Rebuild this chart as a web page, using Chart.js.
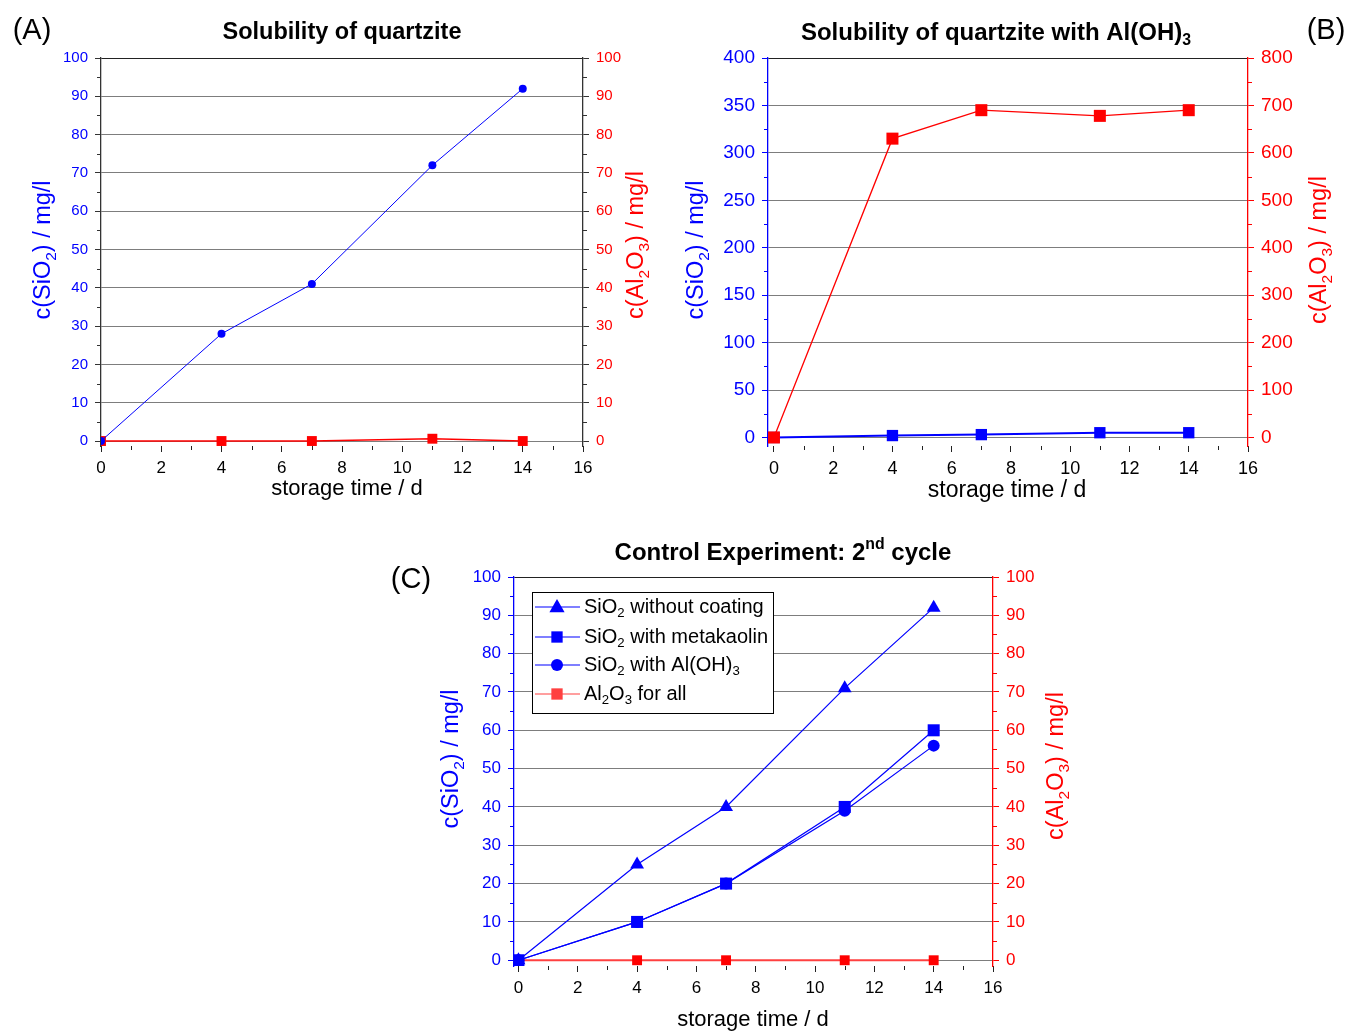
<!DOCTYPE html>
<html><head><meta charset="utf-8">
<script src="https://cdn.jsdelivr.net/npm/chart.js@4.4.1/dist/chart.umd.min.js"></script>
<style>
html,body{margin:0;padding:0;background:#fff;width:1349px;height:1031px;overflow:hidden;}
.panel{position:absolute;}
</style></head><body>
<div class="panel" style="left:0px;top:0px;width:680px;height:510px"><canvas id="ca"></canvas></div>
<div class="panel" style="left:680px;top:0px;width:669px;height:510px"><canvas id="cb"></canvas></div>
<div class="panel" style="left:370px;top:520px;width:720px;height:511px"><canvas id="cc"></canvas></div>
<script>
// ---------- data ----------
const daysA = [0, 4, 7, 11, 14];
const sio2A = [0, 28, 41, 72, 92];
const al2o3A = [0, 0, 0, 0.6, 0];

const daysB = [0, 4, 7, 11, 14];
const sio2B = [0, 2, 3, 5, 5];
const al2o3B = [0, 630, 690, 678, 690];

const daysC = [0, 4, 7, 11, 14];
const sio2NoCoat = [0, 25, 40, 71, 92];
const sio2Meta = [0, 10, 20, 40, 60];
const sio2AlOH = [0, 10, 20, 39, 56];
const al2o3C = [0, 0, 0, 0, 0];

const legendLabelsC = [
  [['SiO',0],['2',1],[' without coating',0]],
  [['SiO',0],['2',1],[' with metakaolin',0]],
  [['SiO',0],['2',1],[' with Al(OH)',0],['3',1]],
  [['Al',0],['2',1],['O',0],['3',1],[' for all',0]]
];

// ---------- helpers ----------
const FAM = '"Liberation Sans", Arial, sans-serif';
Chart.defaults.font.family = FAM;
const BLUE = '#0000ff', RED = '#ff0000', DARK = '#222222', GRID = '#7d7d7d';
const pts = (xs, ys) => xs.map((x, i) => ({x: x, y: ys[i]}));
function fontStr(size, bold){ return (bold ? 'bold ' : '') + size + 'px ' + FAM; }
function segsWidth(ctx, segs, size, bold){
  let w = 0;
  for (const [t, m] of segs){ ctx.font = fontStr(m ? size*0.66 : size, bold); w += ctx.measureText(t).width; }
  return w;
}
function drawRich(ctx, segs, cx, cy, size, color, bold, rot){
  ctx.save(); ctx.translate(cx, cy); if (rot) ctx.rotate(rot);
  const w = segsWidth(ctx, segs, size, bold);
  let x = -w/2;
  ctx.fillStyle = color; ctx.textBaseline = 'middle'; ctx.textAlign = 'left';
  for (const [t, m] of segs){
    const s = m ? size*0.66 : size;
    ctx.font = fontStr(s, bold);
    const dy = m === 1 ? size*0.32 : (m === 2 ? -size*0.36 : 0);
    ctx.fillText(t, x, dy);
    x += ctx.measureText(t).width;
  }
  ctx.restore();
}
function marker(ctx, style, x, y, r, color){
  ctx.save(); ctx.fillStyle = color; ctx.beginPath();
  if (style === 'circle'){ ctx.arc(x, y, r, 0, Math.PI*2); }
  else if (style === 'rect'){ const s = r*Math.SQRT1_2; ctx.rect(x-s, y-s, 2*s, 2*s); }
  else if (style === 'triangle'){ ctx.moveTo(x, y - r); ctx.lineTo(x + r*0.95, y + r*0.65); ctx.lineTo(x - r*0.95, y + r*0.65); ctx.closePath(); }
  ctx.fill(); ctx.restore();
}

const annot = {
  id: 'annot',
  afterDraw(chart, args, opts){
    if (!opts || !opts.off) return;
    const ctx = chart.ctx; const ox = opts.off[0], oy = opts.off[1];
    (opts.items || []).forEach(it => drawRich(ctx, it.s, it.x - ox, it.y - oy, it.size, it.color || '#000', it.bold, it.rot));
    const lg = opts.legend;
    if (lg){
      ctx.save();
      ctx.fillStyle = '#fff'; ctx.fillRect(lg.x - ox, lg.y - oy, lg.w, lg.h);
      ctx.strokeStyle = '#000'; ctx.lineWidth = 1;
      ctx.strokeRect(lg.x - ox + 0.5, lg.y - oy + 0.5, lg.w, lg.h);
      lg.rows.forEach((r, i) => {
        const y = lg.rowY[i] - oy;
        ctx.strokeStyle = r.color; ctx.lineWidth = r.lw;
        ctx.beginPath(); ctx.moveTo(lg.x - ox + 3, y); ctx.lineTo(lg.x - ox + 48, y); ctx.stroke();
        marker(ctx, r.style, lg.x - ox + 25, y, r.r, r.color);
        const w = segsWidth(ctx, r.label, lg.size, false);
        drawRich(ctx, r.label, lg.x - ox + 52 + w/2, y, lg.size, '#000', false, 0);
      });
      ctx.restore();
    }
  }
};

const minorTicks = {
  id: 'minorTicks',
  afterDraw(chart, args, opts){
    if (!opts || !opts.scales) return;
    const ctx = chart.ctx;
    Object.keys(opts.scales).forEach(id => {
      const s = chart.scales[id]; const o = opts.scales[id]; if (!s) return;
      const vals = s.ticks.map(t => t.value);
      ctx.save(); ctx.strokeStyle = o.color; ctx.lineWidth = 1;
      ctx.beginPath();
      for (let i = 0; i < vals.length - 1; i++){
        const p = Math.round(s.getPixelForValue((vals[i] + vals[i+1]) / 2)) + 0.5;
        if (s.axis === 'x'){ ctx.moveTo(p, s.top); ctx.lineTo(p, s.top + 4); }
        else if (s.position === 'left'){ ctx.moveTo(s.right, p); ctx.lineTo(s.right - 4, p); }
        else { ctx.moveTo(s.left, p); ctx.lineTo(s.left + 4, p); }
      }
      ctx.stroke(); ctx.restore();
    });
  }
};
Chart.register(annot, minorTicks);

function xScale(min, H, size){
  return {type: 'linear', min: min, max: 16,
    ticks: {stepSize: 2, includeBounds: false, color: '#000', font: {size: size}, padding: 6, maxRotation: 0, autoSkip: false},
    grid: {drawOnChartArea: false, drawTicks: true, tickLength: 6, tickColor: DARK, lineWidth: 1},
    border: {display: false},
    afterFit: s => { s.height = H; }};
}
function yScale(pos, min, max, step, labelColor, axisColor, size, W, grid){
  return {type: 'linear', position: pos, min: min, max: max,
    ticks: {stepSize: step, includeBounds: false, color: labelColor, font: {size: size}, padding: 7, autoSkip: false},
    grid: {drawOnChartArea: grid, drawTicks: true, tickLength: 6, tickColor: axisColor, lineWidth: 1,
      color: c => (c.tick && c.tick.value === max) ? DARK : GRID},
    border: {display: true, color: axisColor, width: 1.3},
    afterFit: s => { s.width = W; }};
}
function baseOpts(scales, padTop, plug){
  return {responsive: true, maintainAspectRatio: false, animation: false,
    layout: {padding: {top: padTop, left: 0, right: 0, bottom: 0}},
    elements: {line: {tension: 0}},
    scales: scales,
    plugins: Object.assign({legend: {display: false}, tooltip: {enabled: false}}, plug)};
}
const SIO2 = [['c(SiO',0],['2',1],[') / mg/l',0]];
const AL2O3 = [['c(Al',0],['2',1],['O',0],['3',1],[') / mg/l',0]];
const XT = [['storage time / d',0]];
const R90 = -Math.PI/2;

// ---------- Panel A ----------
new Chart(document.getElementById('ca'), {
  type: 'line',
  data: {datasets: [
    {data: pts(daysA, sio2A), yAxisID: 'y', borderColor: BLUE, backgroundColor: BLUE, borderWidth: 1,
     pointStyle: 'circle', pointRadius: 4, pointBorderWidth: 0},
    {data: pts(daysA, al2o3A), yAxisID: 'y2', borderColor: RED, backgroundColor: RED, borderWidth: 1.5,
     pointStyle: 'rect', pointRadius: 7, pointBorderWidth: 0}
  ]},
  options: baseOpts({
    x: xScale(0, 510-446, 17),
    y: yScale('left', -1.3, 100, 10, BLUE, '#333', 15, 101, true),
    y2: yScale('right', -1.3, 100, 10, RED, '#333', 15, 680-583, false)
  }, 58, {
    annot: {off: [0, 0], items: [
      {s: [['(A)',0]], x: 32, y: 31, size: 29},
      {s: [['Solubility of quartzite',0]], x: 342, y: 33, size: 23.5, bold: true},
      {s: XT, x: 347, y: 489, size: 22},
      {s: SIO2, x: 44, y: 250, size: 23.5, color: BLUE, rot: R90},
      {s: AL2O3, x: 637, y: 245, size: 23.5, color: RED, rot: R90}
    ]},
    minorTicks: {scales: {x: {color: DARK}, y: {color: '#333'}, y2: {color: '#333'}}}
  })
});

// ---------- Panel B ----------
new Chart(document.getElementById('cb'), {
  type: 'line',
  data: {datasets: [
    {data: pts(daysB, al2o3B), yAxisID: 'y2', borderColor: RED, backgroundColor: RED, borderWidth: 1.3,
     pointStyle: 'rect', pointRadius: 8.5, pointBorderWidth: 0},
    {data: pts(daysB, sio2B), yAxisID: 'y', borderColor: BLUE, backgroundColor: BLUE, borderWidth: 2,
     pointStyle: 'rect', pointRadius: 8, pointBorderWidth: 0}
  ]},
  options: baseOpts({
    x: xScale(-0.2, 510-446, 18),
    y: yScale('left', -9, 400, 50, BLUE, BLUE, 19, 768-680, true),
    y2: yScale('right', -18, 800, 100, RED, RED, 19, 1349-1248, false)
  }, 58, {
    annot: {off: [680, 0], items: [
      {s: [['(B)',0]], x: 1326, y: 31, size: 29},
      {s: [['Solubility of quartzite with Al(OH)',0],['3',1]], x: 996, y: 33, size: 24, bold: true},
      {s: XT, x: 1007, y: 491, size: 23},
      {s: SIO2, x: 697, y: 250, size: 23.5, color: BLUE, rot: R90},
      {s: AL2O3, x: 1320, y: 250, size: 23.5, color: RED, rot: R90}
    ]},
    minorTicks: {scales: {x: {color: DARK}, y: {color: BLUE}, y2: {color: RED}}}
  })
});

// ---------- Panel C ----------
new Chart(document.getElementById('cc'), {
  type: 'line',
  data: {datasets: [
    {data: pts(daysC, sio2NoCoat), yAxisID: 'y', borderColor: BLUE, backgroundColor: BLUE, borderWidth: 1.2,
     pointStyle: 'triangle', pointRadius: 8, pointBorderWidth: 0},
    {data: pts(daysC, sio2Meta), yAxisID: 'y', borderColor: BLUE, backgroundColor: BLUE, borderWidth: 1.2,
     pointStyle: 'rect', pointRadius: 8.5, pointBorderWidth: 0},
    {data: pts(daysC, sio2AlOH), yAxisID: 'y', borderColor: BLUE, backgroundColor: BLUE, borderWidth: 1.2,
     pointStyle: 'circle', pointRadius: 6, pointBorderWidth: 0},
    {data: pts(daysC, al2o3C), yAxisID: 'y2', borderColor: '#ff4040', backgroundColor: RED, borderWidth: 2,
     pointStyle: 'rect', pointRadius: 7, pointBorderWidth: 0}
  ]},
  options: baseOpts({
    x: xScale(-0.15, 1031-966, 17),
    y: yScale('left', -1.5, 100, 10, BLUE, BLUE, 17, 514-370, true),
    y2: yScale('right', -1.5, 100, 10, RED, RED, 17, 1090-993, false)
  }, 57, {
    annot: {off: [370, 520], items: [
      {s: [['(C)',0]], x: 411, y: 580, size: 29},
      {s: [['Control Experiment: 2',0],['nd',2],[' cycle',0]], x: 783, y: 553, size: 24, bold: true},
      {s: XT, x: 753, y: 1020, size: 22},
      {s: SIO2, x: 452, y: 759, size: 23.5, color: BLUE, rot: R90},
      {s: AL2O3, x: 1057, y: 766, size: 23.5, color: RED, rot: R90}
    ],
    legend: {x: 532, y: 592, w: 241, h: 121, size: 20, rowY: [607, 637, 665, 694], rows: [
      {label: legendLabelsC[0], color: BLUE, lw: 1.2, style: 'triangle', r: 8},
      {label: legendLabelsC[1], color: BLUE, lw: 1.2, style: 'rect', r: 8},
      {label: legendLabelsC[2], color: BLUE, lw: 1.2, style: 'circle', r: 6},
      {label: legendLabelsC[3], color: '#ff4040', lw: 1.2, style: 'rect', r: 8}
    ]}},
    minorTicks: {scales: {x: {color: DARK}, y: {color: BLUE}, y2: {color: RED}}}
  })
});
</script>
</body></html>
